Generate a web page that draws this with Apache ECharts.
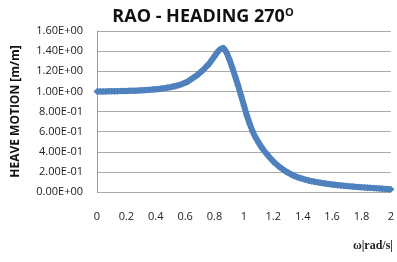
<!DOCTYPE html>
<html>
<head>
<meta charset="utf-8">
<script src="https://cdn.jsdelivr.net/npm/echarts@6/dist/echarts.min.js"></script>
<style>
  html, body { margin: 0; padding: 0; background: #fff; }
  #chart { width: 397px; height: 262px; }
</style>
</head>
<body>
<div id="chart"></div>
<script>
// frequency step 0.02 rad/s, 0 .. 2
var omega = [];
for (var i = 0; i <= 100; i++) { omega.push(+(i * 0.02).toFixed(2)); }

var heave = [
  1.000, 1.000, 1.000, 1.000, 1.001, 1.001, 1.002, 1.002, 1.003, 1.003,
  1.004, 1.005, 1.006, 1.007, 1.008, 1.010, 1.012, 1.014, 1.016, 1.018,
  1.021, 1.024, 1.028, 1.032, 1.037, 1.042, 1.048, 1.055, 1.063, 1.073,
  1.085, 1.100, 1.120, 1.140, 1.160, 1.185, 1.210, 1.240, 1.270, 1.310,
  1.350, 1.390, 1.420, 1.430, 1.390, 1.320, 1.240, 1.150, 1.060, 0.960,
  0.860, 0.760, 0.675, 0.600, 0.540, 0.490, 0.445, 0.405, 0.370, 0.335,
  0.305, 0.277, 0.252, 0.230, 0.210, 0.192, 0.176, 0.162, 0.150, 0.140,
  0.131, 0.122, 0.114, 0.108, 0.102, 0.097, 0.092, 0.087, 0.083, 0.079,
  0.075, 0.071, 0.068, 0.065, 0.062, 0.059, 0.056, 0.054, 0.051, 0.049,
  0.047, 0.045, 0.043, 0.041, 0.039, 0.037, 0.035, 0.033, 0.031, 0.029,
  0.027
];

var yTicks = ['0.00E+00', '2.00E-01', '4.00E-01', '6.00E-01', '8.00E-01',
              '1.00E+00', '1.20E+00', '1.40E+00', '1.60E+00'];

var chart = echarts.init(document.getElementById('chart'));
chart.setOption({
  animation: false,
  title: {
    text: '{a|RAO - HEADING 270}{s|O}',
    left: 198,
    textAlign: 'center',
    top: 2,
    textStyle: {
      rich: {
        a: { fontFamily: 'Open Sans', fontWeight: 'bold', fontSize: 18, color: '#111' },
        s: { fontFamily: 'Open Sans', fontWeight: 'bold', fontSize: 11, color: '#111', verticalAlign: 'top', padding: [0, 0, 9, 0] }
      }
    }
  },
  grid: { left: 97, right: 4, top: 31, bottom: 70 },
  graphic: [{
    type: 'text',
    right: 4,
    top: 240,
    style: {
      text: 'ω|rad/s|',
      font: 'bold 12px "Liberation Serif"',
      fill: '#222'
    }
  }],
  xAxis: {
    type: 'value',
    min: 0,
    max: 2,
    interval: 0.2,
    axisLine: { show: false },
    axisTick: { show: false },
    splitLine: { show: false },
    axisLabel: {
      margin: 19,
      fontFamily: 'Open Sans',
      fontSize: 11,
      color: '#222',
      formatter: function (v) { return String(+v.toFixed(1)); }
    }
  },
  yAxis: {
    type: 'value',
    min: 0,
    max: 1.6,
    interval: 0.2,
    name: 'HEAVE MOTION [m/m]',
    nameLocation: 'middle',
    nameGap: 75,
    nameTextStyle: { fontFamily: 'Open Sans', fontWeight: 'bold', fontSize: 12, color: '#111' },
    axisLine: { show: true, lineStyle: { color: '#999' } },
    axisTick: { show: false },
    splitLine: { lineStyle: { color: '#aaa' } },
    axisLabel: {
      margin: 14,
      fontFamily: 'Open Sans',
      fontSize: 11,
      color: '#222',
      formatter: function (v) { return yTicks[Math.round(v / 0.2)]; }
    }
  },
  series: [{
    type: 'line',
    data: omega.map(function (x, i) { return [x, heave[i]]; }),
    smooth: 0.2,
    symbol: 'diamond',
    symbolSize: 7,
    showSymbol: true,
    itemStyle: { color: '#4f81bd' },
    lineStyle: { color: '#4f81bd', width: 6 }
  }]
});
</script>
</body>
</html>
